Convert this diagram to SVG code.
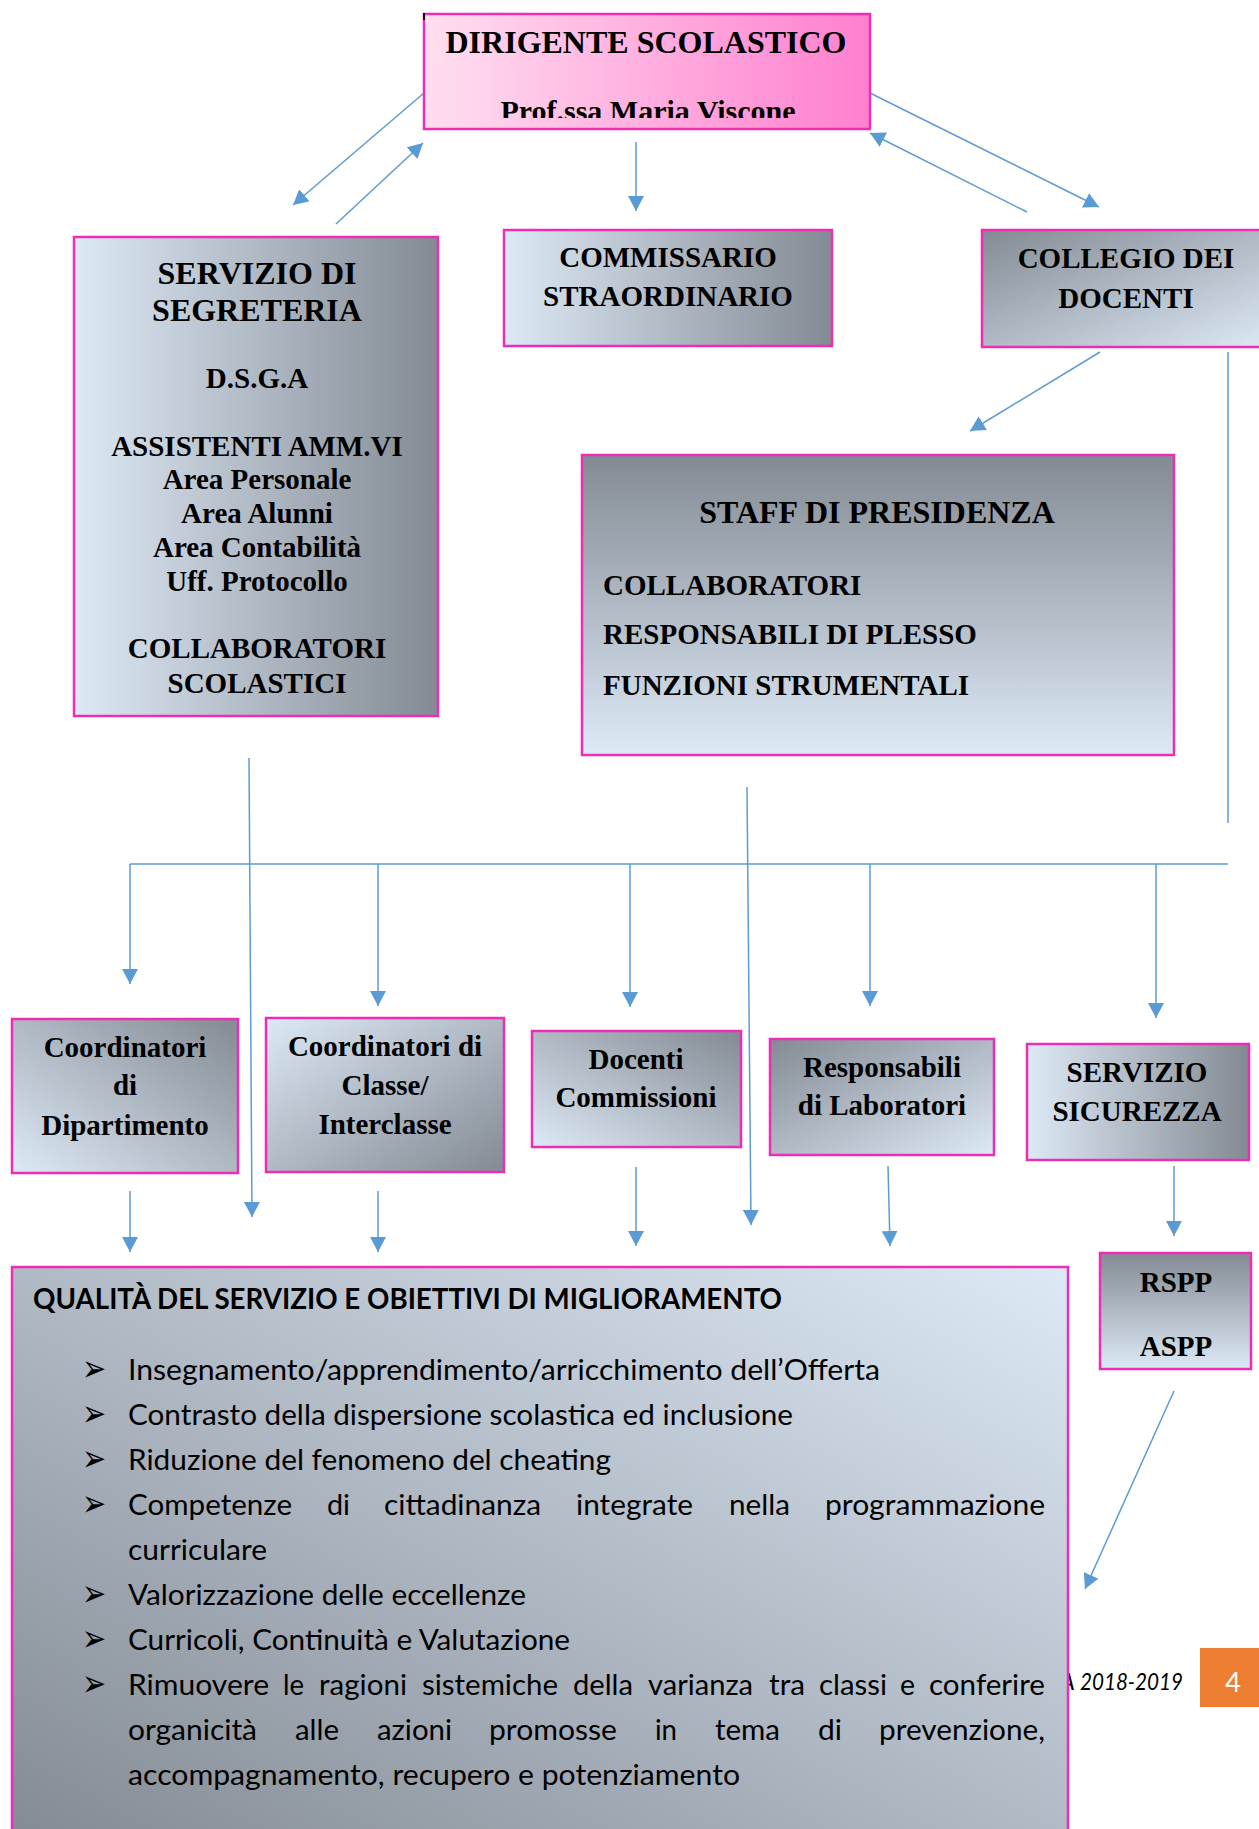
<svg xmlns="http://www.w3.org/2000/svg" width="1259" height="1829" viewBox="0 0 1259 1829">
<defs>
<linearGradient id="gH" x1="0" y1="0" x2="1" y2="0"><stop offset="0" stop-color="#dde9f6"/><stop offset="1" stop-color="#838a93"/></linearGradient>
<linearGradient id="gV" x1="0" y1="0" x2="0" y2="1"><stop offset="0" stop-color="#838a93"/><stop offset="1" stop-color="#dde9f6"/></linearGradient>
<linearGradient id="gBLTR" x1="0" y1="1" x2="1" y2="0"><stop offset="0" stop-color="#dde9f6"/><stop offset="1" stop-color="#838a93"/></linearGradient>
<linearGradient id="gTLBR" x1="0" y1="0" x2="1" y2="1"><stop offset="0" stop-color="#dde9f6"/><stop offset="1" stop-color="#838a93"/></linearGradient>
<linearGradient id="gDarkTL" x1="0" y1="0" x2="1" y2="1"><stop offset="0" stop-color="#838a93"/><stop offset="1" stop-color="#dde9f6"/></linearGradient>
<linearGradient id="gQ" x1="1" y1="0" x2="0" y2="1"><stop offset="0" stop-color="#dde9f6"/><stop offset="1" stop-color="#838a93"/></linearGradient>
<linearGradient id="gPink" x1="0" y1="0" x2="1" y2="0"><stop offset="0" stop-color="#ffdff0"/><stop offset="1" stop-color="#ff7fcf"/></linearGradient>
<marker id="ah" viewBox="0 0 15 16" refX="15" refY="8" markerWidth="15" markerHeight="16" orient="auto" markerUnits="userSpaceOnUse"><path d="M0,0 L15,8 L0,16 z" fill="#5b9bd5"/></marker>
<clipPath id="clipDir"><rect x="424" y="14" width="446" height="104"/></clipPath>
</defs>
<style>
.box{stroke:#ee2db5;stroke-width:2.5}
.t{font-family:"Liberation Serif","Times New Roman",serif;font-weight:bold;fill:#000;font-size:29px}
.big{font-size:32px}
.c{text-anchor:middle}
.b{font-family:Lato,"Liberation Sans",sans-serif;fill:#000;font-size:29px}
.bul{font-family:"DejaVu Sans",sans-serif;fill:#000;font-size:24px}
#connectors line{stroke:#5b9bd5;stroke-width:1.5;fill:none}
.arr{marker-end:url(#ah)}
</style>
<rect width="1259" height="1829" fill="#fff"/>

<g id="footer">
<text x="1075" y="1690" text-anchor="end" style="font-family:Lato,'Liberation Sans',sans-serif;font-style:italic;font-size:24px" fill="#000">A</text>
<text x="1080" y="1690" textLength="103" lengthAdjust="spacingAndGlyphs" style="font-family:Lato,'Liberation Sans',sans-serif;font-style:italic;font-size:24px" fill="#000">2018-2019</text>
<rect x="1200" y="1648" width="59" height="59" fill="#ed7d31"/>
<text x="1233" y="1692" text-anchor="middle" style="font-family:Lato,'Liberation Sans',sans-serif;font-size:27px" fill="#fff">4</text>
</g>

<g id="connectors">
<line class="arr" x1="424" y1="93" x2="293" y2="205"/>
<line class="arr" x1="336" y1="224" x2="423" y2="143"/>
<line class="arr" x1="636" y1="142" x2="636" y2="211"/>
<line class="arr" x1="870" y1="93" x2="1099" y2="207"/>
<line class="arr" x1="1027" y1="212" x2="870" y2="133"/>
<line class="arr" x1="1100" y1="352" x2="970" y2="431"/>
<line x1="1228" y1="352" x2="1228" y2="823"/>
<line x1="130" y1="864" x2="1228" y2="864"/>
<line class="arr" x1="130" y1="864" x2="130" y2="984"/>
<line class="arr" x1="378" y1="864" x2="378" y2="1006"/>
<line class="arr" x1="630" y1="864" x2="630" y2="1007"/>
<line class="arr" x1="870" y1="864" x2="870" y2="1006"/>
<line class="arr" x1="1156" y1="864" x2="1156" y2="1018"/>
<line class="arr" x1="249" y1="758" x2="252" y2="1217"/>
<line class="arr" x1="747" y1="787" x2="751" y2="1225"/>
<line class="arr" x1="130" y1="1191" x2="130" y2="1252"/>
<line class="arr" x1="378" y1="1191" x2="378" y2="1252"/>
<line class="arr" x1="636" y1="1167" x2="636" y2="1246"/>
<line class="arr" x1="888" y1="1166" x2="890" y2="1246"/>
<line class="arr" x1="1174" y1="1166" x2="1174" y2="1236"/>
<line class="arr" x1="1174" y1="1391" x2="1085" y2="1589"/>
</g>

<g id="dirigente">
<rect class="box" x="424" y="14" width="446" height="115" fill="url(#gPink)"/>
<rect x="423" y="13" width="2" height="7" fill="#000"/>
<text class="t big c" x="646" y="53">DIRIGENTE SCOLASTICO</text>
<text class="t c" x="648" y="121" style="font-size:30px" clip-path="url(#clipDir)">Prof.ssa Maria Viscone</text>
</g>

<g id="segreteria">
<rect class="box" x="74" y="237" width="364" height="479" fill="url(#gH)"/>
<text class="t big c" x="257" y="284">SERVIZIO DI</text>
<text class="t big c" x="257" y="321">SEGRETERIA</text>
<text class="t c" x="257" y="388">D.S.G.A</text>
<text class="t c" x="257" y="456">ASSISTENTI AMM.VI</text>
<text class="t c" x="257" y="489">Area Personale</text>
<text class="t c" x="257" y="523">Area Alunni</text>
<text class="t c" x="257" y="557">Area Contabilità</text>
<text class="t c" x="257" y="591">Uff. Protocollo</text>
<text class="t c" x="257" y="658">COLLABORATORI</text>
<text class="t c" x="257" y="693">SCOLASTICI</text>
</g>

<g id="commissario">
<rect class="box" x="504" y="230" width="328" height="116" fill="url(#gH)"/>
<text class="t c" x="668" y="267">COMMISSARIO</text>
<text class="t c" x="668" y="306">STRAORDINARIO</text>
</g>

<g id="collegio">
<rect class="box" x="982" y="230" width="290" height="117" fill="url(#gDarkTL)"/>
<text class="t c" x="1126" y="268">COLLEGIO DEI</text>
<text class="t c" x="1126" y="308">DOCENTI</text>
</g>

<g id="staff">
<rect class="box" x="582" y="455" width="592" height="300" fill="url(#gV)"/>
<text class="t big c" x="877" y="523">STAFF DI PRESIDENZA</text>
<text class="t" x="603" y="595">COLLABORATORI</text>
<text class="t" x="603" y="644">RESPONSABILI DI PLESSO</text>
<text class="t" x="603" y="695">FUNZIONI STRUMENTALI</text>
</g>

<g id="coord-dipartimento">
<rect class="box" x="12" y="1019" width="226" height="154" fill="url(#gBLTR)"/>
<text class="t c" x="125" y="1057">Coordinatori</text>
<text class="t c" x="125" y="1095">di</text>
<text class="t c" x="125" y="1135">Dipartimento</text>
</g>

<g id="coord-classe">
<rect class="box" x="266" y="1018" width="238" height="154" fill="url(#gTLBR)"/>
<text class="t c" x="385" y="1056">Coordinatori di</text>
<text class="t c" x="385" y="1095">Classe/</text>
<text class="t c" x="385" y="1134">Interclasse</text>
</g>

<g id="docenti">
<rect class="box" x="532" y="1031" width="209" height="116" fill="url(#gBLTR)"/>
<text class="t c" x="636" y="1069">Docenti</text>
<text class="t c" x="636" y="1107">Commissioni</text>
</g>

<g id="responsabili">
<rect class="box" x="770" y="1039" width="224" height="116" fill="url(#gDarkTL)"/>
<text class="t c" x="882" y="1077">Responsabili</text>
<text class="t c" x="882" y="1115">di Laboratori</text>
</g>

<g id="sicurezza">
<rect class="box" x="1027" y="1044" width="222" height="116" fill="url(#gH)"/>
<text class="t c" x="1137" y="1082">SERVIZIO</text>
<text class="t c" x="1137" y="1121">SICUREZZA</text>
</g>

<g id="rspp">
<rect class="box" x="1100" y="1253" width="151" height="116" fill="url(#gV)"/>
<text class="t c" x="1176" y="1292">RSPP</text>
<text class="t c" x="1176" y="1356">ASPP</text>
</g>

<g id="qualita">
<rect class="box" x="12" y="1267" width="1056" height="580" fill="url(#gQ)"/>
<text class="b" x="33" y="1309" font-weight="bold" textLength="749" lengthAdjust="spacingAndGlyphs">QUALITÀ DEL SERVIZIO E OBIETTIVI DI MIGLIORAMENTO</text>
<text class="bul" transform="scale(1.2,1.55)" x="68.33" y="890.968">➢</text>
<text class="bul" transform="scale(1.2,1.55)" x="68.33" y="920">➢</text>
<text class="bul" transform="scale(1.2,1.55)" x="68.33" y="949.032">➢</text>
<text class="bul" transform="scale(1.2,1.55)" x="68.33" y="978.065">➢</text>
<text class="bul" transform="scale(1.2,1.55)" x="68.33" y="1036.129">➢</text>
<text class="bul" transform="scale(1.2,1.55)" x="68.33" y="1065.161">➢</text>
<text class="bul" transform="scale(1.2,1.55)" x="68.33" y="1094.194">➢</text>
<text class="b" x="128" y="1380" textLength="752" lengthAdjust="spacingAndGlyphs">Insegnamento/apprendimento/arricchimento dell’Offerta</text>
<text class="b" x="128" y="1425" textLength="665" lengthAdjust="spacingAndGlyphs">Contrasto della dispersione scolastica ed inclusione</text>
<text class="b" x="128" y="1470" textLength="483" lengthAdjust="spacingAndGlyphs">Riduzione del fenomeno del cheating</text>
<text class="b" y="1515"><tspan x="128" textLength="164" lengthAdjust="spacingAndGlyphs">Competenze</tspan><tspan x="327" textLength="23" lengthAdjust="spacingAndGlyphs">di</tspan><tspan x="384" textLength="157" lengthAdjust="spacingAndGlyphs">cittadinanza</tspan><tspan x="576" textLength="117" lengthAdjust="spacingAndGlyphs">integrate</tspan><tspan x="729" textLength="61" lengthAdjust="spacingAndGlyphs">nella</tspan><tspan x="825" textLength="220" lengthAdjust="spacingAndGlyphs">programmazione</tspan></text>
<text class="b" x="128" y="1560" textLength="139" lengthAdjust="spacingAndGlyphs">curriculare</text>
<text class="b" x="128" y="1605" textLength="398" lengthAdjust="spacingAndGlyphs">Valorizzazione delle eccellenze</text>
<text class="b" x="128" y="1650" textLength="442" lengthAdjust="spacingAndGlyphs">Curricoli, Continuità e Valutazione</text>
<text class="b" y="1695"><tspan x="128" textLength="141" lengthAdjust="spacingAndGlyphs">Rimuovere</tspan><tspan x="283" textLength="21" lengthAdjust="spacingAndGlyphs">le</tspan><tspan x="319" textLength="88" lengthAdjust="spacingAndGlyphs">ragioni</tspan><tspan x="422" textLength="136" lengthAdjust="spacingAndGlyphs">sistemiche</tspan><tspan x="573" textLength="60" lengthAdjust="spacingAndGlyphs">della</tspan><tspan x="648" textLength="105" lengthAdjust="spacingAndGlyphs">varianza</tspan><tspan x="769" textLength="36" lengthAdjust="spacingAndGlyphs">tra</tspan><tspan x="819" textLength="68" lengthAdjust="spacingAndGlyphs">classi</tspan><tspan x="900" textLength="15" lengthAdjust="spacingAndGlyphs">e</tspan><tspan x="929" textLength="116" lengthAdjust="spacingAndGlyphs">conferire</tspan></text>
<text class="b" y="1740"><tspan x="128" textLength="129" lengthAdjust="spacingAndGlyphs">organicità</tspan><tspan x="295" textLength="44" lengthAdjust="spacingAndGlyphs">alle</tspan><tspan x="377" textLength="75" lengthAdjust="spacingAndGlyphs">azioni</tspan><tspan x="489" textLength="128" lengthAdjust="spacingAndGlyphs">promosse</tspan><tspan x="655" textLength="22" lengthAdjust="spacingAndGlyphs">in</tspan><tspan x="715" textLength="65" lengthAdjust="spacingAndGlyphs">tema</tspan><tspan x="818" textLength="24" lengthAdjust="spacingAndGlyphs">di</tspan><tspan x="879" textLength="166" lengthAdjust="spacingAndGlyphs">prevenzione,</tspan></text>
<text class="b" x="128" y="1785" textLength="612" lengthAdjust="spacingAndGlyphs">accompagnamento, recupero e potenziamento</text>
</g>
</svg>
